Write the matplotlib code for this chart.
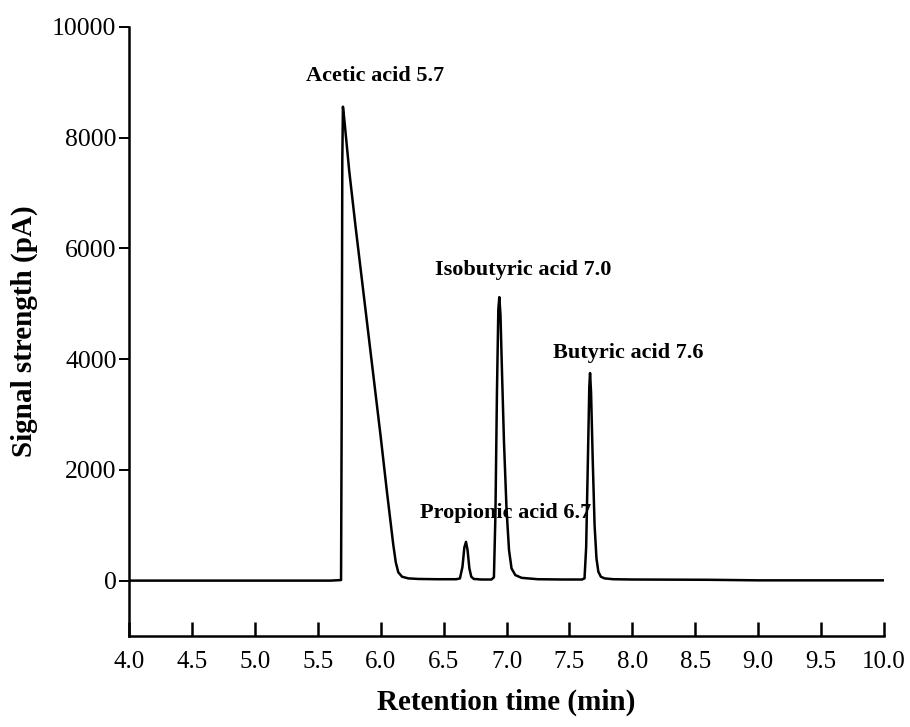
import numpy as np
import matplotlib.pyplot as plt

plt.rcParams['font.family'] = ['Liberation Serif', 'DejaVu Serif']

# chromatogram trace (retention time in min, signal in pA)
time_min = [4.00, 5.00, 5.60, 5.685, 5.690, 5.695, 5.700, 5.710, 5.750, 5.800,
            5.850, 5.900, 5.950, 6.000, 6.050, 6.100, 6.120, 6.140, 6.170, 6.220,
            6.300, 6.450, 6.600, 6.630, 6.650, 6.665, 6.678, 6.690, 6.705, 6.720,
            6.740, 6.800, 6.880, 6.900, 6.912, 6.924, 6.935, 6.943, 6.952, 6.965,
            6.980, 7.000, 7.020, 7.040, 7.070, 7.120, 7.250, 7.450, 7.600, 7.620,
            7.633, 7.647, 7.658, 7.664, 7.672, 7.685, 7.700, 7.715, 7.730, 7.750,
            7.780, 7.850, 8.000, 8.600, 9.000, 10.00]
signal_pa = [0, 0, 0, 10, 3000, 7600, 8560, 8350, 7400, 6400,
             5450, 4500, 3550, 2600, 1600, 650, 330, 150, 70, 40,
             30, 25, 25, 40, 250, 600, 700, 560, 220, 70,
             30, 20, 20, 60, 1200, 3400, 4900, 5120, 4800, 3700,
             2500, 1300, 550, 220, 100, 50, 25, 20, 20, 40,
             600, 2200, 3500, 3750, 3400, 2200, 1000, 400, 160, 70,
             40, 25, 20, 15, 5, 5]

peak_labels = ['Acetic acid 5.7', 'Propionic acid 6.7', 'Isobutyric acid 7.0', 'Butyric acid 7.6']
label_x = [5.955, 6.995, 7.13, 7.965]
label_y = [9110, 1230, 5610, 4110]

fig = plt.figure(figsize=(9.1, 7.27), dpi=100)
ax = fig.add_axes([0.1418, 0.1252, 0.8296, 0.8377])

ax.plot(time_min, signal_pa, color='black', lw=1.8)

for lab, lx, ly in zip(peak_labels, label_x, label_y):
    ax.text(lx, ly, lab, ha='center', va='center', fontsize=16, fontweight='bold')

ax.set_xlim(4.0, 10.0)
ax.set_ylim(-1000, 10000)
ax.set_xticks(np.arange(4.0, 10.01, 0.5))
ax.set_yticks(np.arange(0, 10001, 2000))
ax.set_xticklabels([f'{v:.1f}' for v in np.arange(4.0, 10.01, 0.5)])

for side in ['top', 'right']:
    ax.spines[side].set_visible(False)
for side in ['left', 'bottom']:
    ax.spines[side].set_linewidth(1.8)

ax.tick_params(axis='x', direction='in', length=10, width=1.8, labelsize=18, pad=11)
ax.tick_params(axis='y', direction='out', length=7, width=1.4, labelsize=18.5, pad=2)

ax.set_xlabel('Retention time (min)', fontsize=21, fontweight='bold', labelpad=11)
ax.set_ylabel('Signal strength (pA)', fontsize=21, fontweight='bold', labelpad=10)

fig.savefig('out.png', dpi=100)
